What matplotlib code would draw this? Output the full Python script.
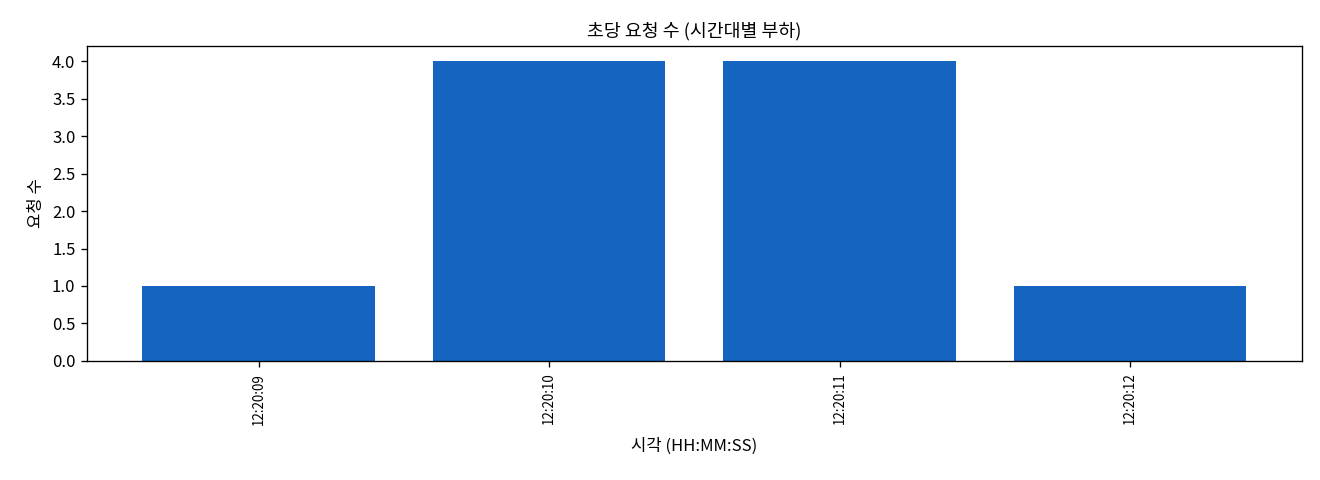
import matplotlib
matplotlib.use("Agg")
import matplotlib.pyplot as plt

plt.rcParams['font.family'] = ['Noto Sans CJK KR', 'DejaVu Sans']

# 초당 요청 수
times = ["12:20:09", "12:20:10", "12:20:11", "12:20:12"]
counts = [1, 4, 4, 1]

fig, ax = plt.subplots(figsize=(11, 4), dpi=120)
fig.subplots_adjust(left=0.066, right=0.986, top=0.904, bottom=0.248)

ax.bar(times, counts, color="#1565C0", width=0.8)
ax.set_title("초당 요청 수 (시간대별 부하)", fontsize=11)
ax.set_xlabel("시각 (HH:MM:SS)", fontsize=10, labelpad=8)
ax.set_ylabel("요청 수", fontsize=10)
ax.set_ylim(0, 4.2)
ax.tick_params(axis="x", labelrotation=90, labelsize=8)
ax.tick_params(axis="y", labelsize=10)

fig.savefig("out.png", dpi=120)
